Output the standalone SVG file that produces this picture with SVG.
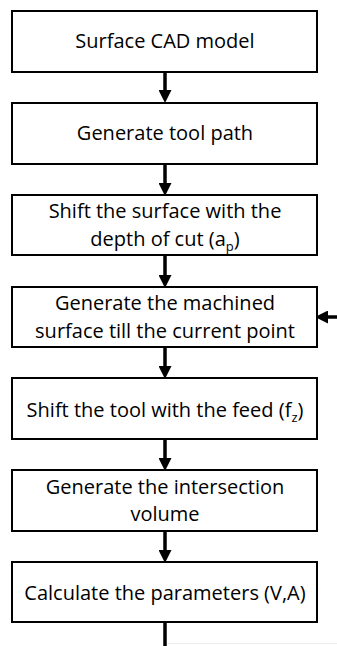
<svg xmlns="http://www.w3.org/2000/svg" width="337" height="646" viewBox="0 0 337 646">
<style>
.box{fill:#fff;stroke:#000;stroke-width:2}
.t{font-family:"Open Sans","Liberation Sans",sans-serif;font-size:20px;fill:#000;text-anchor:middle}
.c{stroke:#000;stroke-width:3.5;fill:none}
</style>
<defs>
<marker id="ah" markerUnits="userSpaceOnUse" markerWidth="13" markerHeight="13" viewBox="0 0 12 12" refX="0" refY="6" orient="auto">
<path d="M0,0 L12,6 L0,12 z" fill="#000"/>
</marker>
</defs>
<rect width="337" height="646" fill="#fff"/>
<g id="connectors">
<path class="c" d="M165,72 V90" marker-end="url(#ah)"/>
<path class="c" d="M165,164 V183" marker-end="url(#ah)"/>
<path class="c" d="M165,255 V275" marker-end="url(#ah)"/>
<path class="c" d="M165,347 V366" marker-end="url(#ah)"/>
<path class="c" d="M165,439 V458" marker-end="url(#ah)"/>
<path class="c" d="M165,531 V550" marker-end="url(#ah)"/>
<path class="c" d="M165,622 V646"/>
<path class="c" d="M337,317 H328" marker-end="url(#ah)"/>
<line x1="167" y1="643.5" x2="337" y2="643.5" stroke="#ececec" stroke-width="1"/>
</g>
<g id="n1"><rect class="box" x="12" y="11" width="305" height="61"/><text class="t" x="165" y="48">Surface CAD model</text></g>
<g id="n2"><rect class="box" x="12" y="103" width="305" height="61"/><text class="t" x="165" y="140">Generate tool path</text></g>
<g id="n3"><rect class="box" x="12" y="195" width="305" height="60"/><text class="t" x="165" y="218">Shift the surface with the</text><text class="t" x="165" y="246">depth of cut (a<tspan font-size="13" dy="5">p</tspan><tspan dy="-5">)</tspan></text></g>
<g id="n4"><rect class="box" x="12" y="287" width="305" height="60"/><text class="t" x="165" y="310">Generate the machined</text><text class="t" x="165" y="338">surface till the current point</text></g>
<g id="n5"><rect class="box" x="12" y="378" width="305" height="61"/><text class="t" x="165" y="417">Shift the tool with the feed (f<tspan font-size="13" dy="5">z</tspan><tspan dy="-5">)</tspan></text></g>
<g id="n6"><rect class="box" x="12" y="470" width="305" height="61"/><text class="t" x="165" y="494">Generate the intersection</text><text class="t" x="165" y="521">volume</text></g>
<g id="n7"><rect class="box" x="12" y="562" width="305" height="60"/><text class="t" x="165" y="600">Calculate the parameters (V,A)</text></g>
</svg>
